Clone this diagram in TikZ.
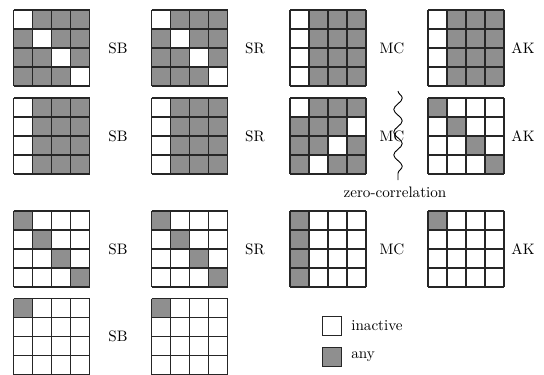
\documentclass[tikz,border=0pt]{standalone}
\usetikzlibrary{decorations.pathmorphing}
\definecolor{anyfill}{gray}{0.56}
\tikzset{
  gridline/.style={line width=0.75pt, draw=black!85},
  lbl/.style={inner sep=0pt, font=\normalsize},
  legbox/.style={line width=0.75pt, draw=black!85},
  wave/.style={line width=0.6pt, decorate, decoration={snake, segment length=15pt, amplitude=2.8pt}}
}
% #1 x, #2 y, #3 background colour, #4 cell colour, #5 list col/row
\newcommand\mygrid[5]{%
  \fill[#3] (#1,#2) rectangle ++(76,76);
  \foreach \cc/\rr in {#5} {\fill[#4] ({#1+19*\cc},{#2+19*\rr}) rectangle ++(19,19);}
  \foreach \ii in {0,...,4} {
    \draw[gridline] ({#1+19*\ii},#2) -- ++(0,76);
    \draw[gridline] (#1,{#2+19*\ii}) -- ++(76,0);
  }
}
\begin{document}
\begin{tikzpicture}[x=0.66pt,y=-0.66pt]
\useasboundingbox (0,0) rectangle (544,374);
% row 1
\mygrid{13.5}{10}{anyfill}{white}{0/0,1/1,2/2,3/3}
\mygrid{151.5}{10}{anyfill}{white}{0/0,1/1,2/2,3/3}
\mygrid{290}{10}{anyfill}{white}{0/0,0/1,0/2,0/3}
\mygrid{428}{10}{anyfill}{white}{0/0,0/1,0/2,0/3}
\node[lbl] (sb1) at (118,48) {SB};
\node[lbl] (sr1) at (255,48) {SR};
\node[lbl] (mc1) at (392,48) {MC};
\node[lbl] (ak1) at (523,48) {AK};
% row 2
\mygrid{13.5}{98}{anyfill}{white}{0/0,0/1,0/2,0/3}
\mygrid{151.5}{98}{anyfill}{white}{0/0,0/1,0/2,0/3}
\mygrid{290}{98}{anyfill}{white}{0/0,3/1,2/2,1/3}
\mygrid{428}{98}{white}{anyfill}{0/0,1/1,2/2,3/3}
\node[lbl] (sb2) at (118,136) {SB};
\node[lbl] (sr2) at (255,136) {SR};
\node[lbl] (mc2) at (392,136) {MC};
\node[lbl] (ak2) at (523,136) {AK};
% zero-correlation
\coordinate (zt) at (398,91);
\coordinate (zb) at (398,180);
\draw[wave] (zt) -- (zb);
\node[lbl] (zc) at (395,192) {zero-correlation};
% row 3
\mygrid{13.5}{211}{white}{anyfill}{0/0,1/1,2/2,3/3}
\mygrid{151.5}{211}{white}{anyfill}{0/0,1/1,2/2,3/3}
\mygrid{290}{211}{white}{anyfill}{0/0,0/1,0/2,0/3}
\mygrid{428}{211}{white}{anyfill}{0/0}
\node[lbl] (sb3) at (118,249) {SB};
\node[lbl] (sr3) at (255,249) {SR};
\node[lbl] (mc3) at (392,249) {MC};
\node[lbl] (ak3) at (523,249) {AK};
% row 4
\mygrid{13.5}{298.5}{white}{anyfill}{0/0}
\mygrid{151.5}{298.5}{white}{anyfill}{0/0}
\node[lbl] (sb4) at (118,336.5) {SB};
% legend
\draw[legbox, fill=white] (322.5,316.5) rectangle (341.5,335.5);
\draw[legbox, fill=anyfill] (322.5,347.5) rectangle (341.5,366.5);
\node[lbl, anchor=west] (inact) at (351,326) {inactive};
\node[lbl, anchor=west] (anyl) at (351,357) {any};
\end{tikzpicture}
\end{document}
